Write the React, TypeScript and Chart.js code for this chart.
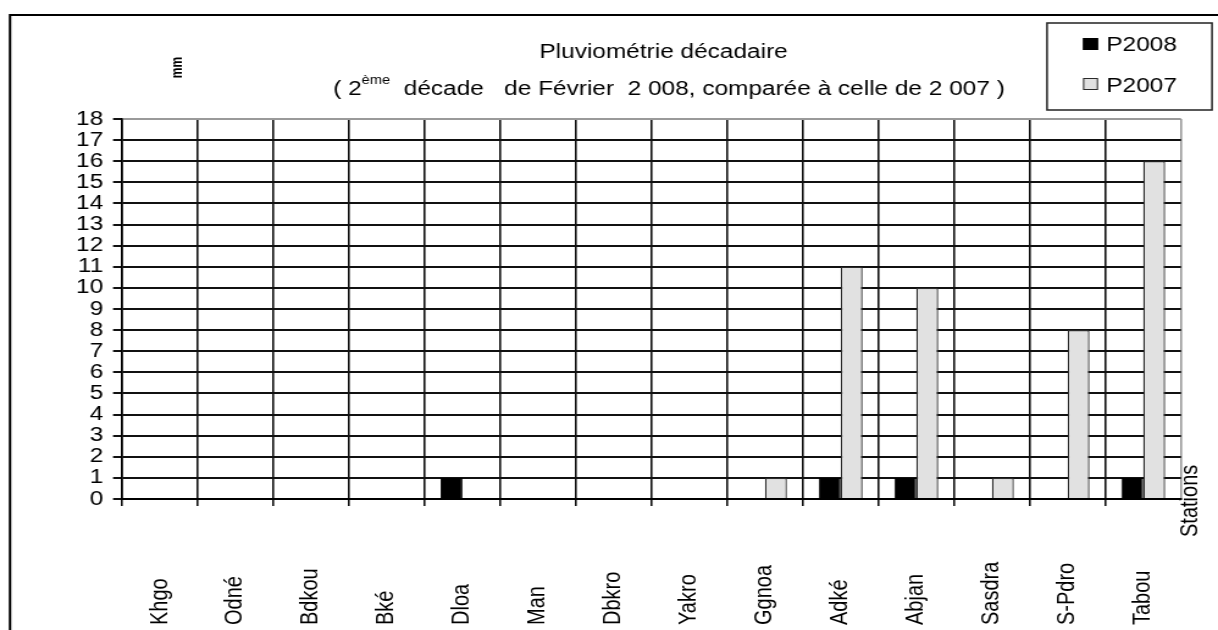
import React, { useEffect, useRef } from "react";
import { Chart, registerables } from "chart.js";

Chart.register(...registerables);

// ---- data ----
const stations = ["Khgo", "Odné", "Bdkou", "Bké", "Dloa", "Man", "Dbkro", "Yakro", "Ggnoa", "Adké", "Abjan", "Sasdra", "S-Pdro", "Tabou"];
const p2008 = [0, 0, 0, 0, 1, 0, 0, 0, 0, 1, 1, 0, 0, 1];
const p2007 = [0, 0, 0, 0, 0, 0, 0, 0, 1, 11, 10, 1, 8, 16];
const yMin = 0;
const yMax = 18;
const yStep = 1;

const titleText = "Pluviométrie décadaire";
const subA = "( 2";
const subSup = "ème";
const subB = "  décade   de Février  2 008, comparée à celle de 2 007 )";
const yTitle = "mm";
const xTitle = "Stations";
const seriesNames = ["P2008", "P2007"];

// ---- geometry (internal canvas units; canvas is stretched horizontally on display) ----
const W = 998;
const H = 630;
const DISPLAY_W = 1218;
const FONT = '"Liberation Sans", Arial, Helvetica, sans-serif';

const decor = {
  id: "decor",
  afterDraw(chart: any) {
    const ctx = chart.ctx as CanvasRenderingContext2D;
    const xs = chart.scales.x;
    ctx.save();
    // outer frame
    ctx.strokeStyle = "#000";
    ctx.lineWidth = 2;
    ctx.beginPath();
    ctx.moveTo(8.2, H);
    ctx.lineTo(8.2, 15);
    ctx.lineTo(W, 15);
    ctx.stroke();

    ctx.fillStyle = "#000";
    // title
    ctx.font = `20px ${FONT}`;
    ctx.textAlign = "center";
    ctx.textBaseline = "alphabetic";
    ctx.fillText(titleText, 543.7, 58);
    // subtitle with superscript
    ctx.textAlign = "left";
    let x = 273;
    ctx.fillText(subA, x, 95);
    x += ctx.measureText(subA).width;
    ctx.font = `12px ${FONT}`;
    ctx.fillText(subSup, x, 84);
    x += ctx.measureText(subSup).width;
    ctx.font = `20px ${FONT}`;
    ctx.fillText(subB, x, 95);

    // y title "mm"
    ctx.save();
    ctx.font = `bold 12px ${FONT}`;
    ctx.textAlign = "center";
    ctx.textBaseline = "middle";
    ctx.translate(145.9, 67.5);
    ctx.rotate(-Math.PI / 2);
    ctx.fillText(yTitle, 0, 0);
    ctx.restore();

    // x labels (rotated, anchored at bottom)
    ctx.font = `20px ${FONT}`;
    ctx.textAlign = "left";
    ctx.textBaseline = "middle";
    (chart.data.labels as string[]).forEach((lab, i) => {
      const px = xs.getPixelForTick(i);
      ctx.save();
      ctx.translate(px, 625);
      ctx.rotate(-Math.PI / 2);
      ctx.fillText(lab, 0, 0);
      ctx.restore();
    });

    // x title "Stations"
    ctx.save();
    ctx.translate(975.1, 537);
    ctx.rotate(-Math.PI / 2);
    ctx.fillText(xTitle, 0, 0);
    ctx.restore();

    // legend
    ctx.strokeStyle = "#222";
    ctx.lineWidth = 1.5;
    ctx.strokeRect(857.9, 23, 135.2, 87);
    const rows = [
      { sq: 38, base: 50.5 },
      { sq: 78, base: 92.3 },
    ];
    chart.data.datasets.forEach((ds: any, i: number) => {
      const r = rows[i];
      ctx.fillStyle = ds.backgroundColor;
      ctx.fillRect(887.4, r.sq, 12.3, 12);
      ctx.strokeStyle = ds.borderColor;
      ctx.lineWidth = 1;
      ctx.strokeRect(887.9, r.sq + 0.5, 11.3, 11);
      ctx.fillStyle = "#000";
      ctx.font = `20px ${FONT}`;
      ctx.textAlign = "left";
      ctx.textBaseline = "alphabetic";
      ctx.fillText(ds.label, 906.5, r.base);
    });
    ctx.restore();
  },
};

export default function App() {
  const ref = useRef<HTMLCanvasElement>(null);
  useEffect(() => {
    const chart = new Chart(ref.current as HTMLCanvasElement, {
      type: "bar",
      data: {
        labels: stations,
        datasets: [
          {
            label: seriesNames[0],
            data: p2008,
            backgroundColor: "#000000",
            borderColor: "#000000",
            borderWidth: 1,
            categoryPercentage: 0.58,
            barPercentage: 1,
          },
          {
            label: seriesNames[1],
            data: p2007,
            backgroundColor: "#e1e1e1",
            borderColor: "#2a2a2a",
            borderWidth: 1.3,
            categoryPercentage: 0.58,
            barPercentage: 1,
          },
        ],
      },
      options: {
        animation: false,
        responsive: false,
        devicePixelRatio: 1,
        layout: { padding: { top: 119, right: 30.3, left: 0, bottom: 0 } },
        plugins: {
          legend: { display: false },
          title: { display: false },
          tooltip: { enabled: false },
        },
        scales: {
          x: {
            type: "category",
            offset: true,
            grid: {
              offset: true,
              color: (c: any) => (c.tick ? "#111111" : "#9a9a9a"),
              lineWidth: 1.6,
              drawTicks: true,
              tickLength: 7,
              tickColor: (c: any) => (c.tick ? "#111111" : "rgba(0,0,0,0)"),
            },
            border: { display: true, color: "#000", width: 2 },
            ticks: { display: false },
            afterFit: (s: any) => {
              s.height = 131;
            },
          },
          y: {
            min: yMin,
            max: yMax,
            ticks: {
              stepSize: yStep,
              autoSkip: false,
              maxTicksLimit: 19,
              padding: 8,
              color: "#000",
              font: { family: FONT, size: 20, lineHeight: 1 },
            },
            grid: {
              color: (c: any) => (c.tick && c.tick.value === yMax ? "#9a9a9a" : "#111111"),
              lineWidth: 2,
              tickLength: 7.4,
              tickColor: "#111111",
            },
            border: { display: true, color: "#000", width: 1.6 },
            afterFit: (s: any) => {
              s.width = 100;
            },
          },
        },
      } as any,
      plugins: [decor],
    });
    return () => chart.destroy();
  }, []);
  return (
    <canvas
      ref={ref}
      width={W}
      height={H}
      style={{ position: "fixed", left: 0, top: 0, width: `${DISPLAY_W}px`, height: `${H}px`, display: "block" }}
    />
  );
}
